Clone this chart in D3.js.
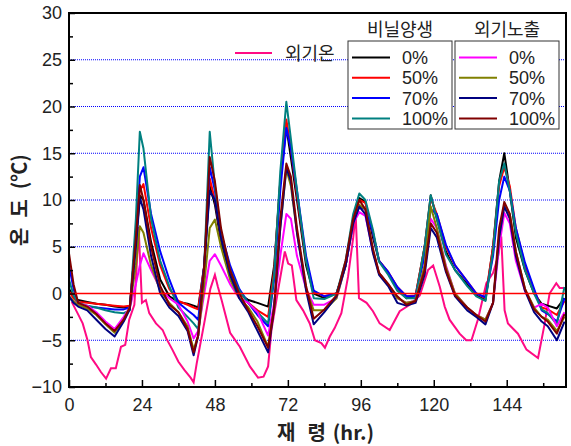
<!DOCTYPE html>
<html>
<head>
<meta charset="utf-8">
<script src="https://d3js.org/d3.v7.min.js"></script>
<style>
body { margin: 0; background: #fff; }
text { font-family: "Liberation Sans", Arial, "Noto Sans CJK KR", sans-serif; fill: #222; }
.kr { font-family: "Noto Sans CJK KR", "Liberation Sans", sans-serif; }
</style>
</head>
<body>
<svg width="571" height="446"></svg>
<script>
// hours shared by the eight concrete series
var hours = [0, 1.5, 3, 6, 9, 12, 15, 18, 20, 22, 23.3, 24.5, 27, 30, 33, 36, 39, 41, 42.5, 44.5,
  46.3, 48, 50, 53, 56, 59, 62, 65.5, 67.5, 69.5, 71.5, 73, 75, 78, 80.5, 84, 88, 91, 93.5, 95.5,
  97.5, 100, 102, 105, 108, 111, 114, 117, 119, 121, 124, 127, 131, 134, 137, 139.5, 141.5, 143.2, 145, 147,
  150, 153, 155.5, 157.5, 160.5, 163];

// 비닐양생
var vinyl0 = [0.5, -0.3, -0.7, -0.9, -1.1, -1.2, -1.4, -1.5, -1.4, 5.5, 10.5, 10, 5.5, 1.5, -0.3, -0.9, -1.1, -1.3, -1.5, 3,
  11.5, 9.5, 5.5, 2, 0, -0.7, -1, -1.4, 3, 12, 17.8, 14.5, 10, 3, 0, -0.5, 0, 3, 8, 10.2,
  9.8, 6, 3.5, 2.2, 0.6, -0.5, -0.3, 5, 10.5, 8, 4.5, 2.5, 1, -0.2, -0.7, 5, 12, 15, 11, 6,
  2.5, 0, -1.1, -1.3, -1.6, -0.5];
var vinyl50 = [0.2, -0.5, -0.9, -1.0, -1.1, -1.2, -1.3, -1.4, -1.3, 6, 11, 11.7, 7, 3, 0.5, -0.8, -1.2, -1.5, -1.7, 3,
  12.3, 10, 6, 2.5, 0.2, -1, -1.8, -2.5, 2.5, 12, 18.6, 15.5, 10.5, 3.5, 0.2, -0.3, 0, 3, 8, 10,
  9.7, 6.5, 3.5, 2.3, 0.7, -0.3, -0.2, 5, 10.2, 8.5, 5, 3, 1.3, 0, -0.5, 5, 11.5, 13.5, 11.5, 7,
  3, 0.3, -1.5, -1.7, -2.3, -0.8];
var vinyl70 = [3, 0.5, -1, -1.4, -1.5, -1.6, -1.7, -1.7, -1.5, 6, 12.5, 13.5, 8.5, 4.5, 1.5, -1, -1.8, -2.3, -2.8, 3,
  13.5, 11, 6.5, 3, 0.5, -1, -2.3, -3.5, 1.5, 11, 17.7, 15.5, 11, 4, 0.3, -0.3, 0, 3, 7.5, 9.3,
  9, 6.5, 3.5, 2.3, 0.7, -0.3, -0.3, 4, 9, 8.5, 5.2, 3, 1.3, 0, -0.4, 4, 10, 12.5, 11, 7,
  3.3, 0.5, -1.8, -2.2, -3, -0.5];
var vinyl100 = [1.5, -0.2, -1, -1.3, -1.5, -1.8, -2, -2.1, -1.8, 8, 17.3, 15.5, 8, 3.5, 0.8, -1.5, -2.5, -3.2, -3.8, 3,
  17.3, 11.5, 6.5, 2.5, 0.3, -1, -2, -3.2, 2, 13, 20.5, 16.5, 11, 3.5, -0.5, -0.6, 0, 3.5, 8.5, 10.7,
  10, 6.8, 3.4, 2, 0.3, -0.5, -0.5, 5, 10.5, 8, 4.2, 2.5, 0.8, -0.3, -0.8, 4.5, 12, 13.9, 11, 6.5,
  2.5, 0, -1.7, -2.1, -3.3, 0.7];

// 외기노출
var open0 = [-0.5, -0.8, -1.1, -1.3, -2, -3, -3.8, -2.5, -1.5, 1, 3, 4.3, 2.5, 0.5, -0.5, -1.2, -3, -4.8, -4, 0,
  3.5, 4.2, 3, 1, -0.5, -1, -2, -4.5, -1, 4, 8.5, 8, 4, 0.5, -1.2, -1.2, -0.5, 3, 7.5, 8.7,
  8.3, 4.5, 2.2, 1, -0.5, -1, -0.8, 3, 8, 7, 3, 0, -1.5, -2.3, -2.8, -1, 5, 8.6, 7.5, 3.5,
  0.3, -1.5, -1.1, -1.5, -3.5, -2];
var open50 = [-0.3, -0.8, -1.2, -1.6, -2.3, -3.3, -4.2, -2.8, -1.5, 3, 7.2, 6.5, 3, 0.3, -1, -2, -3.5, -6, -4.5, 1,
  7, 7.9, 5, 1.5, -0.5, -1.5, -3, -5.7, -1.5, 7, 13.3, 11.5, 6.5, 0.5, -1.8, -1.8, -0.5, 3, 8, 9.5,
  9, 4.5, 2.2, 1, -0.5, -1, -0.8, 3, 9.3, 7, 2.8, 0, -1.5, -2.3, -2.8, -1, 6, 9.5, 8.5, 4.5,
  0.5, -1.5, -2.5, -2.8, -4, -2.5];
var open70 = [-0.3, -1, -1.4, -1.8, -2.8, -3.8, -4.6, -3, -1.7, 5, 10.2, 9, 4, 0, -1.5, -2.4, -4, -6.6, -4.5, 3,
  11, 10, 6, 2, -0.5, -2, -4, -6.3, -1.5, 7, 13.5, 12, 6.5, 0.3, -3.3, -2, -0.3, 3, 7.5, 9.3,
  8.5, 4.3, 2, 0.8, -1, -1.3, -1, 2, 7, 6, 2.3, -0.3, -1.8, -2.5, -3.3, -1, 6, 9.3, 8, 4,
  0.3, -2, -3, -3.5, -5, -3];
var open100 = [4.3, 1, -1, -1.4, -2.2, -3.2, -4, -2.8, -1.5, 6, 11.6, 10, 5, 0.8, -1.2, -2, -3.8, -6.3, -4.5, 3,
  14.6, 12, 7, 2.5, 0, -1.8, -3.5, -5.8, -1.5, 8, 13.9, 12.5, 7, 0.8, -2.7, -1.7, -0.2, 3.5, 8, 10,
  9, 4.8, 2.2, 1, -0.3, -1.2, -0.8, 2.5, 7.5, 6.5, 2.5, -0.2, -1.5, -2.3, -3, -1, 7, 9.8, 8.5, 4.5,
  0.5, -1.7, -2.5, -3, -4.3, -2.2];

// 외기온
var airHours = [0.9, 2.8, 4.5, 6.1, 7.2, 8.9, 10.5, 12.2, 13.8, 15.4, 17.1, 18.5, 19.8, 21.5, 22.2, 22.9, 24, 25.3, 26.4, 28.6,
  30.8, 32, 34, 36, 38, 40, 41, 42, 44.7, 46.5, 48, 49, 50.2, 53, 56.2, 59.5, 62.2, 64, 65.5, 66.6,
  68.8, 71, 72.1, 73.3, 74.8, 77, 79.2, 80.9, 83, 84.2, 85.8, 87.4, 89.6, 91.8, 93.5, 94.3, 95.4, 97.9, 100, 102.2,
  105.5, 108.8, 112.1, 115.4, 118.1, 119.8, 122, 123.6, 125.2, 128.5, 130.7, 132.4, 134.5, 137.3, 139.5, 141.1, 142.2, 143.3, 144.4, 147.7,
  150.5, 154.3, 156.5, 158.1, 160.3, 161.4, 163];
var airTemp = [-0.9, -2.1, -3.2, -5, -6.8, -7.6, -8.4, -9.1, -8, -8, -5.7, -5.5, -2.8, -1.2, 2.5, 7.1, -1, -0.7, -2.1, -3.2,
  -3.9, -4.8, -6, -7.3, -8.2, -9, -9.5, -7.5, -2.8, 0.5, 2, 0.7, -0.7, -4.2, -5.7, -7.8, -9, -8.9, -7.8, -3.9,
  0.4, 4.5, 3.2, 3, -0.7, -1.8, -3.2, -5, -5.3, -5.8, -4.6, -3.7, -2.1, 1.8, 6, 8.5, -0.5, -1, -1.9, -3.2,
  -3.9, -1.9, -1.2, -0.2, 2.5, 3, 0.7, -1.4, -2.8, -4.3, -5, -5, -2.8, 1.1, 2.2, 3.9, 6.1, -1.8, -3.2, -4.3,
  -6, -6.9, -3.2, 0, 1.1, 0.6, 0.6];

var xTicks = [0, 24, 48, 72, 96, 120, 144];
var yTicks = [-10, -5, 0, 5, 10, 15, 20, 25, 30];
var pctLabels = ["0%", "50%", "70%", "100%"];
var vinylColors = ["#000000", "#ff0000", "#0000ff", "#008080"];
var openColors = ["#ff00ff", "#808000", "#000080", "#800000"];
var airColor = "#ff0a84";

var svg = d3.select("svg");
var x = d3.scaleLinear().domain([0, 163.5]).range([69, 566]);
var y = d3.scaleLinear().domain([-10, 30]).range([387, 13]);

// grid
svg.append("g").selectAll("line")
  .data(yTicks.filter(function(d) { return d != 0 && d != 30 && d != -10; }))
  .enter().append("line")
  .attr("x1", x(0)).attr("x2", x(163.5))
  .attr("y1", function(d) { return y(d); }).attr("y2", function(d) { return y(d); })
  .attr("stroke", "#0000ff").attr("stroke-width", 1).attr("stroke-dasharray", "1,1");

var line = d3.line()
  .x(function(d) { return x(d[0]); })
  .y(function(d) { return y(d[1]); });

function pairs(hs, vs) { return hs.map(function(h, i) { return [h, vs[i]]; }); }

var series = [
  [vinyl0, vinylColors[0]], [vinyl50, vinylColors[1]], [vinyl70, vinylColors[2]], [vinyl100, vinylColors[3]],
  [open0, openColors[0]], [open50, openColors[1]], [open70, openColors[2]], [open100, openColors[3]]
];
svg.append("path").attr("d", line(pairs(airHours, airTemp)))
  .attr("fill", "none").attr("stroke", airColor).attr("stroke-width", 2);
series.forEach(function(s) {
  svg.append("path").attr("d", line(pairs(hours, s[0])))
    .attr("fill", "none").attr("stroke", s[1]).attr("stroke-width", 2)
    .attr("stroke-linejoin", "round");
});

// zero line
svg.append("line").attr("x1", x(0)).attr("x2", x(163.5))
  .attr("y1", y(0)).attr("y2", y(0)).attr("stroke", "#ff0000").attr("stroke-width", 1.5);

// axes
svg.append("g").attr("transform", "translate(69,0)")
  .call(d3.axisLeft(y).tickValues(yTicks).tickSize(-6).tickPadding(7));
svg.append("g").attr("transform", "translate(69,0)")
  .call(d3.axisLeft(y).tickValues(d3.range(-7.5, 30, 5)).tickSize(-4).tickFormat(""));
svg.append("g").attr("transform", "translate(0,387)")
  .call(d3.axisBottom(x).tickValues(xTicks).tickSize(-7).tickPadding(11));
svg.append("g").attr("transform", "translate(0,387)")
  .call(d3.axisBottom(x).tickValues(d3.range(12, 163, 24)).tickSize(-4).tickFormat(""));
svg.selectAll(".domain").remove();
svg.selectAll(".tick line").attr("stroke", "#000").attr("stroke-width", 1.5);
svg.selectAll(".tick text").style("font-size", "18px").attr("fill", "#222");

svg.append("rect").attr("x", 69).attr("y", 13).attr("width", 497).attr("height", 374)
  .attr("fill", "none").attr("stroke", "#000").attr("stroke-width", 2);

// titles
var xt = svg.append("text").attr("class", "kr").attr("x", 277).attr("y", 440)
  .style("font-size", "20px").style("font-weight", "bold").attr("fill", "#000");
xt.append("tspan").text("재");
xt.append("tspan").attr("dx", 12).text("령");
xt.append("tspan").attr("dx", 7).text("(hr.)");
var yt = svg.append("text").attr("class", "kr").attr("transform", "translate(27,246) rotate(-90)")
  .style("font-size", "20px").style("font-weight", "bold").attr("fill", "#000");
yt.append("tspan").text("온");
yt.append("tspan").attr("dx", 10).text("도");
yt.append("tspan").attr("dx", 10).text("(℃)");

// legend
svg.append("line").attr("x1", 235).attr("x2", 272).attr("y1", 53).attr("y2", 53)
  .attr("stroke", airColor).attr("stroke-width", 2);
svg.append("text").attr("class", "kr").attr("x", 285).attr("y", 60).style("font-size", "18px").text("외기온");

function legendBox(x0, title, colors) {
  svg.append("text").attr("class", "kr").attr("x", x0 + 52).attr("y", 36)
    .attr("text-anchor", "middle").style("font-size", "18px").text(title);
  svg.append("rect").attr("x", x0).attr("y", 41).attr("width", 104).attr("height", 88)
    .attr("fill", "#fff").attr("stroke", "#333").attr("stroke-width", 1);
  colors.forEach(function(c, i) {
    var yy = 57.5 + i * 20.3;
    svg.append("line").attr("x1", x0 + 4).attr("x2", x0 + 42).attr("y1", yy).attr("y2", yy)
      .attr("stroke", c).attr("stroke-width", 2);
    svg.append("text").attr("x", x0 + 54).attr("y", yy + 6.5).style("font-size", "18px").text(pctLabels[i]);
  });
}
legendBox(348, "비닐양생", vinylColors);
legendBox(455, "외기노출", openColors);
</script>
</body>
</html>
